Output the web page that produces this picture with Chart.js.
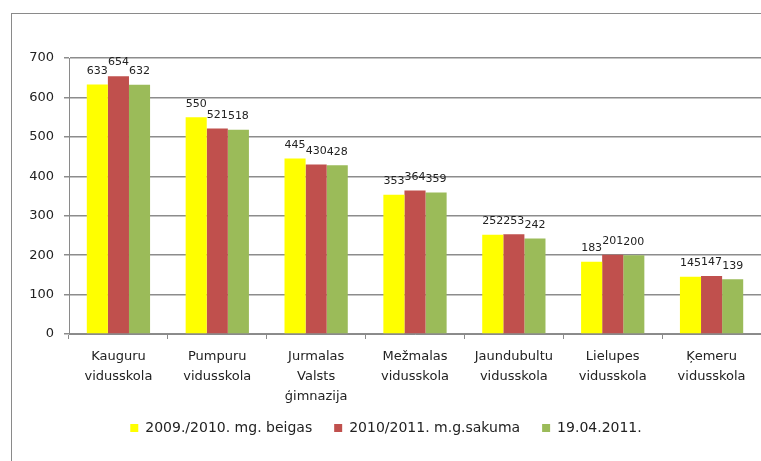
<!DOCTYPE html>
<html>
<head>
<meta charset="utf-8">
<script src="https://cdn.jsdelivr.net/npm/chart.js@4/dist/chart.umd.min.js"></script>
<style>
  html, body { margin: 0; padding: 0; background: #fff; }
  #wrap { width: 761px; height: 461px; position: relative; }
</style>
</head>
<body>
<div id="wrap"><canvas id="chart" width="761" height="461"></canvas></div>
<script>
const schools = [
  ['Kauguru', 'vidusskola'],
  ['Pumpuru', 'vidusskola'],
  ['Jurmalas', 'Valsts', 'ģimnazija'],
  ['Mežmalas', 'vidusskola'],
  ['Jaundubultu', 'vidusskola'],
  ['Lielupes', 'vidusskola'],
  ['Ķemeru', 'vidusskola']
];
const seriesNames = ['2009./2010. mg. beigas', '2010/2011. m.g.sakuma', '19.04.2011.'];
const endOfYear = [633, 550, 445, 353, 252, 183, 145];
const startOfYear = [654, 521, 430, 364, 253, 201, 147];
const april2011 = [632, 518, 428, 359, 242, 200, 139];
const yTicks = [0, 100, 200, 300, 400, 500, 600, 700];

const fontName = '"DejaVu Sans", sans-serif';

// frame round the whole chart
const frame = {
  id: 'frame',
  beforeDraw(chart) {
    const ctx = chart.ctx;
    ctx.save();
    ctx.strokeStyle = '#8a8a8a';
    ctx.lineWidth = 1;
    ctx.strokeRect(11.5, 13.5, 800, 500);
    ctx.restore();
  },
  // x labels run lower than the axis box, so don't clip the third line
  afterLayout(chart) {
    chart.scales.x.bottom = chart.height;
  }
};

// value over each bar
const barValues = {
  id: 'barValues',
  afterDatasetsDraw(chart) {
    const ctx = chart.ctx;
    ctx.save();
    ctx.fillStyle = '#222';
    ctx.font = '11px ' + fontName;
    ctx.textAlign = 'center';
    ctx.textBaseline = 'bottom';
    chart.data.datasets.forEach((ds, i) => {
      chart.getDatasetMeta(i).data.forEach((bar, j) => {
        ctx.fillText(ds.data[j], bar.x, bar.y - 8);
      });
    });
    ctx.restore();
  }
};

new Chart(document.getElementById('chart'), {
  type: 'bar',
  data: {
    labels: schools,
    datasets: [
      { label: seriesNames[0], data: endOfYear, backgroundColor: '#FFFF00' },
      { label: seriesNames[1], data: startOfYear, backgroundColor: '#C0504D' },
      { label: seriesNames[2], data: april2011, backgroundColor: '#9BBB59' }
    ]
  },
  options: {
    responsive: false,
    animation: false,
    categoryPercentage: 0.64,
    barPercentage: 1.0,
    layout: { padding: { left: 11, top: 58, right: 0, bottom: 16 } },
    plugins: {
      legend: {
        position: 'bottom',
        labels: {
          boxWidth: 8,
          boxHeight: 8,
          padding: 22,
          color: '#222',
          font: { family: fontName, size: 14 }
        }
      },
      tooltip: { enabled: false }
    },
    scales: {
      x: {
        afterFit(scale) { scale.height = 65; },
        grid: { display: true, drawOnChartArea: false, tickLength: 5, color: '#8a8a8a' },
        border: { color: '#8a8a8a' },
        ticks: {
          color: '#222',
          maxRotation: 0,
          autoSkip: false,
          padding: 8,
          font: { family: fontName, size: 13, lineHeight: '20px' }
        }
      },
      y: {
        min: 0,
        max: 700,
        afterBuildTicks(scale) { scale.ticks = yTicks.map(v => ({ value: v })); },
        afterFit(scale) { scale.width = 58; },
        grid: { color: '#8c8c8c', lineWidth: 1.5, tickLength: 5 },
        border: { color: '#8a8a8a' },
        ticks: {
          color: '#222',
          padding: 10,
          font: { family: fontName, size: 13 }
        }
      }
    }
  },
  plugins: [frame, barValues]
});
</script>
</body>
</html>
